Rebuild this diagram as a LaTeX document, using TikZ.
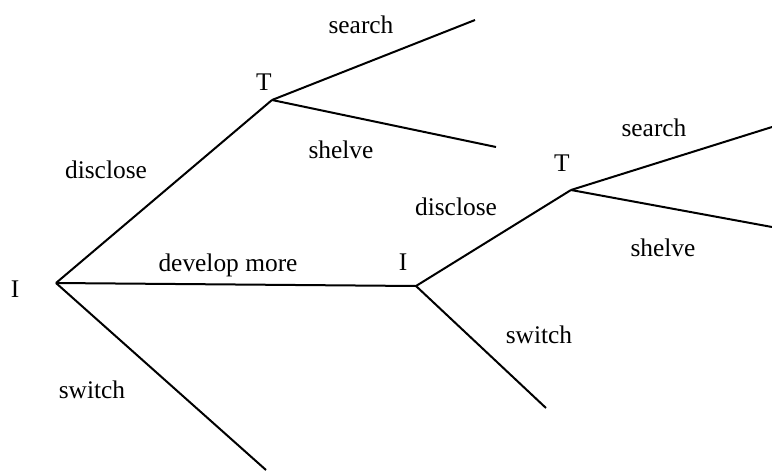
\documentclass[tikz,border=0pt]{standalone}
\usepackage{fontspec}
\setmainfont{Liberation Serif}
\begin{document}
\begin{tikzpicture}[x=0.5pt,y=-0.5pt,
  branch/.style={line width=1pt,black},
  lbl/.style={font=\fontsize{12.7}{15}\selectfont,inner sep=0pt,anchor=center},
  pt/.style={coordinate}]
\useasboundingbox (0,0) rectangle (772,472);
% decision nodes
\coordinate (root) at (56,283);
\coordinate (t1) at (272,100);
\coordinate (i2) at (416,286);
\coordinate (t2) at (571,190);
% leaf ends
\coordinate (t1s) at (475,20);
\coordinate (t1h) at (496,147);
\coordinate (rsw) at (266,470);
\coordinate (t2s) at (772,127);
\coordinate (t2h) at (772,227);
\coordinate (i2sw) at (546,408);
% branches
\draw[branch] (root) -- (t1);
\draw[branch] (root) -- (i2);
\draw[branch] (root) -- (rsw);
\draw[branch] (t1) -- (t1s);
\draw[branch] (t1) -- (t1h);
\draw[branch] (i2) -- (t2);
\draw[branch] (i2) -- (i2sw);
\draw[branch] (t2) -- (t2s);
\draw[branch] (t2) -- (t2h);
% player labels
\node[lbl] (lroot) at (15,289) {I};
\node[lbl] (lt1) at (264,82) {T};
\node[lbl] (li2) at (403,262) {I};
\node[lbl] (lt2) at (562,163) {T};
% action labels
\node[lbl] (a1) at (106,170) {disclose};
\node[lbl] (a2) at (228,265) {develop more};
\node[lbl] (a3) at (92,390) {switch};
\node[lbl] (a4) at (361,25) {search};
\node[lbl] (a5) at (341,150) {shelve};
\node[lbl] (a6) at (456,207) {disclose};
\node[lbl] (a7) at (539,335) {switch};
\node[lbl] (a8) at (654,128) {search};
\node[lbl] (a9) at (663,248) {shelve};
\end{tikzpicture}
\end{document}
